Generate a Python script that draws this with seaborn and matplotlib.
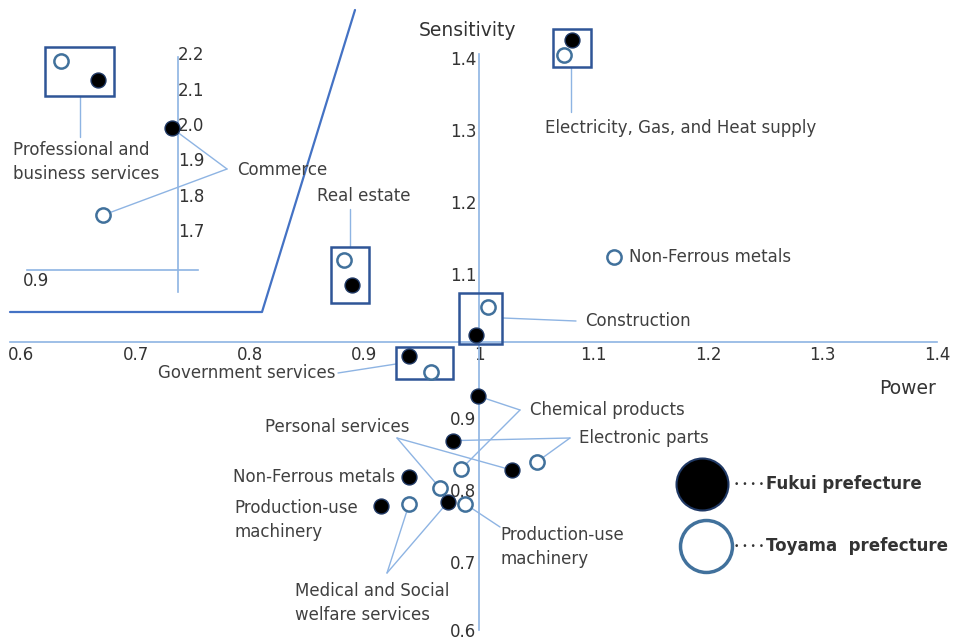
import pandas as pd
import matplotlib.pyplot as plt
import matplotlib.transforms as mtransforms
from matplotlib.patches import Rectangle
import seaborn as sns

# ---- 1. Values ----
industries = ["Electricity, Gas, and Heat supply", "Non-Ferrous metals", "Real estate",
              "Construction", "Government services", "Chemical products", "Electronic parts",
              "Personal services", "Production-use machinery", "Medical and Social welfare services"]
fukui_power = [1.081, 0.939, 0.889, 0.997, 0.939, 0.999, 0.977, 1.029, 0.914, 0.973]
fukui_sens = [1.419, 0.813, 1.079, 1.010, 0.981, 0.925, 0.863, 0.822, 0.772, 0.778]
toyama_power = [1.074, 1.118, 0.882, 1.008, 0.958, 0.984, 1.051, 0.966, 0.988, 0.939]
toyama_sens = [1.399, 1.118, 1.114, 1.049, 0.959, 0.823, 0.834, 0.797, 0.775, 0.775]

# inset panel (very high sensitivity)
inset_industries = ["Professional and business services", "Commerce"]
inset_fukui_power = [0.667, 0.732]
inset_fukui_sens = [2.124, 1.988]
inset_toyama_power = [0.635, 0.672]
inset_toyama_sens = [2.178, 1.743]

x_ticks = [0.6, 0.7, 0.8, 0.9, 1.0, 1.1, 1.2, 1.3, 1.4]
x_tick_labels = ["0.6", "0.7", "0.8", "0.9", "1", "1.1", "1.2", "1.3", "1.4"]
y_ticks = [0.6, 0.7, 0.8, 0.9, 1.1, 1.2, 1.3, 1.4]
y_tick_labels = ["0.6", "0.7", "0.8", "0.9", "1.1", "1.2", "1.3", "1.4"]
inset_y_ticks = [1.7, 1.8, 1.9, 2.0, 2.1, 2.2]
inset_y_tick_labels = ["1.7", "1.8", "1.9", "2.0", "2.1", "2.2"]

main = pd.DataFrame({"Industry": industries * 2,
                     "Prefecture": ["Fukui"] * 10 + ["Toyama"] * 10,
                     "Power": fukui_power + toyama_power,
                     "Sensitivity": fukui_sens + toyama_sens})
inset = pd.DataFrame({"Industry": inset_industries * 2,
                      "Prefecture": ["Fukui"] * 2 + ["Toyama"] * 2,
                      "Power": inset_fukui_power + inset_toyama_power,
                      "Sensitivity": inset_fukui_sens + inset_toyama_sens})

# ---- 2. Style ----
sns.set_style("white")
plt.rcParams['font.family'] = ['DejaVu Sans']

AXIS_C = '#8eb4e3'
LEAD_C = '#8eb4e3'
BOX_C = '#2f5597'
TOY_C = '#41719c'
TXT_C = '#404040'
FS = 12

fig = plt.figure(figsize=(9.56, 6.41), dpi=100)
ax = fig.add_axes([0, 0, 1, 1])
ax_in = fig.add_axes([0, 0, 1, 1])
for a in (ax, ax_in):
    a.patch.set_alpha(0)

# pixel-like scales: main axes cross at (1,1)
ax.set_xlim(1 - 479 / 1145, 1 + 477 / 1145)
ax.set_ylim(1 - 299 / 720, 1 + 342 / 720)
ax_in.set_xlim(ax.get_xlim())
ax_in.set_ylim(2.0 - 517 / 354, 2.0 + 124 / 354)


def P(px, py):
    return 1 + (px - 479) / 1145, 1 + (342 - py) / 720


def Q(px, py):
    return 1 + (px - 479) / 1145, 2.0 + (124 - py) / 354


# ---- 3. Main axes ----
for s in ('top', 'right'):
    ax.spines[s].set_visible(False)
ax.spines['left'].set_position(('data', 1.0))
ax.spines['bottom'].set_position(('data', 1.0))
ax.spines['left'].set_bounds(0.6, 1.4)
ax.spines['bottom'].set_bounds(0.59, 1.4)
for s in ('left', 'bottom'):
    ax.spines[s].set_color(AXIS_C)
    ax.spines[s].set_linewidth(1.2)
ax.set_xticks(x_ticks, x_tick_labels)
ax.set_yticks(y_ticks, y_tick_labels)
ax.tick_params(axis='both', length=0, labelsize=FS, labelcolor='#333333')
ax.tick_params(axis='x', pad=3)
ax.tick_params(axis='y', pad=2)
# y labels sit a little below their ticks in the original (except the bottom one)
shift = mtransforms.ScaledTranslation(0, -4 / 100, fig.dpi_scale_trans)
for lab in ax.get_yticklabels()[1:]:
    lab.set_transform(lab.get_transform() + shift)
ax.set_xlabel("")
ax.set_ylabel("")
ax.text(*P(468, 30), "Sensitivity", fontsize=13.5, color='#333333', ha='center', va='center')
ax.text(*P(908, 388), "Power", fontsize=13.5, color='#333333', ha='center', va='center')

# inset frame
fx, fy = zip(P(355, 10), P(262, 312), P(10, 312))
ax.plot(fx, fy, color='#4472c4', lw=1.6, zorder=1)

# ---- 4. Inset axes ----
for s in ('top', 'left'):
    ax_in.spines[s].set_visible(False)
ax_in.spines['right'].set_position(('data', Q(178, 0)[0]))
ax_in.spines['right'].set_bounds(Q(0, 292)[1], Q(0, 57)[1])
ax_in.spines['bottom'].set_position(('data', Q(0, 270)[1]))
ax_in.spines['bottom'].set_bounds(Q(27, 0)[0], Q(198, 0)[0])
for s in ('right', 'bottom'):
    ax_in.spines[s].set_color(AXIS_C)
    ax_in.spines[s].set_linewidth(1.2)
ax_in.yaxis.tick_right()
ax_in.set_yticks(inset_y_ticks, inset_y_tick_labels)
ax_in.set_xticks([])
ax_in.tick_params(axis='y', length=0, pad=0, labelsize=FS, labelcolor='#333333')
ax_in.set_xlabel("")
ax_in.set_ylabel("")
ax_in.text(*Q(23, 281), "0.9", fontsize=FS, color='#333333', ha='left', va='center')

# ---- 5. Points ----
for a, df in ((ax, main), (ax_in, inset)):
    sns.scatterplot(data=df[df.Prefecture == "Fukui"], x="Power", y="Sensitivity", ax=a,
                    color='black', edgecolor='#1f3864', linewidth=1, s=115, zorder=4, legend=False)
    sns.scatterplot(data=df[df.Prefecture == "Toyama"], x="Power", y="Sensitivity", ax=a,
                    color='white', edgecolor=TOY_C, linewidth=1.8, s=105, zorder=4, legend=False)
    a.set_xlabel("")
    a.set_ylabel("")


def pair(df, name):
    f = df[(df.Industry == name) & (df.Prefecture == "Fukui")].iloc[0]
    t = df[(df.Industry == name) & (df.Prefecture == "Toyama")].iloc[0]
    return (f.Power, f.Sensitivity), (t.Power, t.Sensitivity)


def box(a, pts, dy_unit, pads):
    # pads = (left, right, bottom, top) in pixels around the pair of points
    xs = [p[0] for p in pts]
    ys = [p[1] for p in pts]
    l, r, b, t = pads
    x0 = min(xs) - l / 1145
    y0 = min(ys) - b / dy_unit
    w = max(xs) - min(xs) + (l + r) / 1145
    h = max(ys) - min(ys) + (b + t) / dy_unit
    a.add_patch(Rectangle((x0, y0), w, h, fill=False, edgecolor=BOX_C, lw=1.8, zorder=3))


def lead(a, p0, p1):
    a.plot([p0[0], p1[0]], [p0[1], p1[1]], color=LEAD_C, lw=1.0, zorder=2)


def label(a, xy, s, ha='left'):
    a.text(xy[0], xy[1], s, fontsize=FS, color=TXT_C, ha=ha, va='center', linespacing=1.45)


# boxed pairs
box(ax, pair(main, industries[0]), 720, (11, 19, 12, 11))
lead(ax, P(571, 67), P(571, 112))
label(ax, P(545, 128), "Electricity, Gas, and Heat supply")

box(ax, pair(main, "Real estate"), 720, (13, 17, 18, 13))
lead(ax, P(350, 247), P(350, 209))
label(ax, P(364, 196), "Real estate", ha='center')

box(ax, pair(main, "Construction"), 720, (17, 14, 9, 14))
lead(ax, P(503, 318), P(576, 321))
label(ax, P(585, 321), "Construction")

box(ax, pair(main, "Government services"), 720, (13, 22, 7, 9))
lead(ax, P(396, 364), P(338, 373))
label(ax, P(335, 373), "Government services", ha='right')

box(ax_in, pair(inset, inset_industries[0]), 354, (16, 16, 16, 14))
lead(ax_in, Q(80, 96), Q(80, 137))
label(ax_in, Q(13, 162), "Professional and\nbusiness services")

# forked leaders
for a, df, name, junc, pos, txt, ha in [
        (ax_in, inset, "Commerce", Q(227, 169), Q(237, 170), "Commerce", 'left'),
        (ax, main, "Chemical products", P(520, 410), P(530, 410), "Chemical products", 'left'),
        (ax, main, "Electronic parts", P(570, 438), P(579, 438), "Electronic parts", 'left'),
        (ax, main, "Personal services", P(397, 438), P(337, 427), "Personal services", 'center'),
        (ax, main, industries[9], P(387, 573), P(295, 603), "Medical and Social\nwelfare services", 'left')]:
    for p in pair(df, name):
        lead(a, p, junc)
    label(a, pos, txt, ha=ha)

# single labels
label(ax, P(629, 257), "Non-Ferrous metals")
label(ax, P(395, 477), "Non-Ferrous metals", ha='right')
label(ax, P(234, 520), "Production-use\nmachinery")
lead(ax, pair(main, "Production-use machinery")[1], P(500, 527))
label(ax, P(500, 547), "Production-use\nmachinery")

# ---- 6. Legend ----
ax.scatter([0.7343], [0.2449], s=1400, color='black', edgecolor='#1f3864', lw=1.5,
           transform=ax.transAxes, zorder=4)
ax.scatter([0.7385], [0.1482], s=1400, color='white', edgecolor=TOY_C, lw=2.5,
           transform=ax.transAxes, zorder=4)
for yy, name in ((0.2449, "Fukui prefecture"), (0.1482, "Toyama  prefecture")):
    ax.text(0.768, yy, "\u2022 \u2022 \u2022 \u2022", fontsize=6.5, color='#333333', ha='left',
            va='center', transform=ax.transAxes)
    ax.text(0.801, yy, name, fontsize=12, fontweight='bold', color='#333333', ha='left',
            va='center', transform=ax.transAxes)

plt.savefig("out.png", dpi=100)
plt.close()
